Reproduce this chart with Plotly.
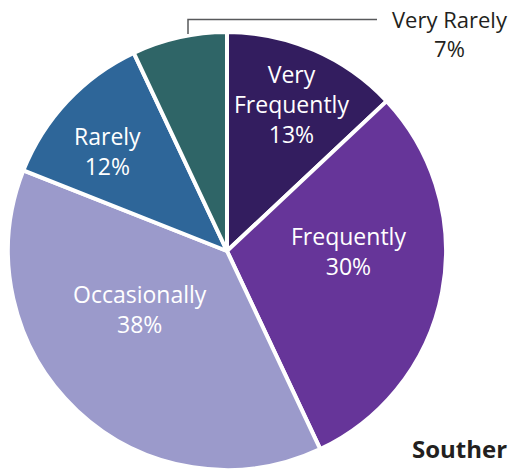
import plotly.graph_objects as go

# data, clockwise from 12 o'clock
labels = ["Very Frequently", "Frequently", "Occasionally", "Rarely", "Very Rarely"]
label_lines = ["Very<br>Frequently", "Frequently", "Occasionally", "Rarely", "Very Rarely"]
values = [13, 30, 38, 12, 7]
colors = ["#331d5f", "#663599", "#9b9acb", "#2e6699", "#2f6567"]
region = "Southern<br>California"

W, H = 516, 471
OFF = 8  # page body margin
cx, cy, R = 227, 251, 219  # pie centre / radius, px from top-left of the page

# label centres in page px (last one sits outside with a leader line)
label_xy = [(291, 104), (348, 251), (140, 309), (107, 151), (450, 34)]
label_size = [23, 23, 23, 23, 22]
FONT = "Open Sans"


def px(x):
    return (x - OFF) / W


def py(y):
    return (H - (y - OFF)) / H


fig = go.Figure(go.Pie(
    labels=labels,
    values=values,
    textinfo="none",
    marker=dict(colors=colors, line=dict(color="white", width=4)),
    sort=False,
    direction="clockwise",
    rotation=0,
    showlegend=False,
    domain=dict(x=[max(px(cx - R), 0), px(cx + R)], y=[py(cy + R), py(cy - R)]),
))

for i, (txt, v) in enumerate(zip(label_lines, values)):
    outside = i == len(values) - 1
    fig.add_annotation(x=px(label_xy[i][0]), y=py(label_xy[i][1]), xref="paper", yref="paper",
                       text=f"{txt}<br>{v}%", showarrow=False,
                       xanchor="center", yanchor="middle",
                       font=dict(family=FONT, size=label_size[i],
                                 color="#231f20" if outside else "white"))

# leader line for the small slice
fig.add_shape(type="path", xref="paper", yref="paper",
              path=f"M {px(188)} {py(34)} L {px(188)} {py(19.5)} L {px(377)} {py(19.5)}",
              line=dict(color="#58595b", width=1.5))

fig.add_annotation(x=px(410), y=py(430), xref="paper", yref="paper",
                   text=f"<b>{region}</b>", showarrow=False, align="left",
                   xanchor="left", yanchor="top",
                   font=dict(family=FONT, size=24, color="#231f20"))

fig.update_layout(
    width=W, height=H,
    margin=dict(l=0, r=0, t=0, b=0),
    paper_bgcolor="white",
    plot_bgcolor="white",
)

fig.write_html("out.html")
